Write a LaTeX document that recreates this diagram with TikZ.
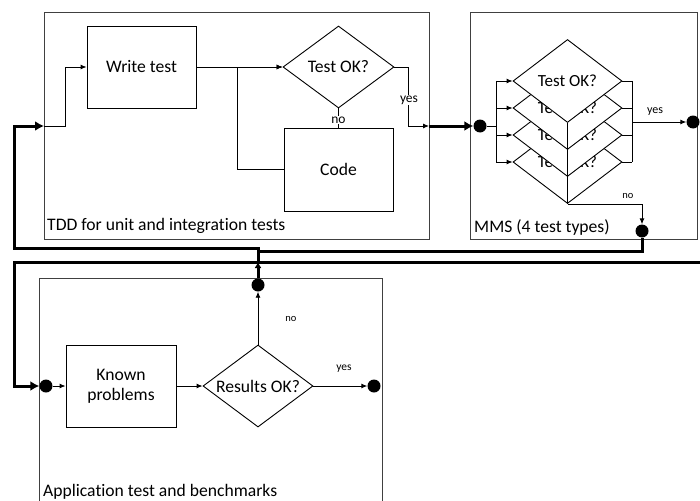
\documentclass[tikz,border=0pt]{standalone}
\usepackage{fontspec}
\setmainfont{Carlito}[Ligatures=NoCommon]
\usetikzlibrary{shapes.geometric,arrows.meta}
\begin{document}
\begin{tikzpicture}[x=1pt,y=-1pt,
  frame/.style={draw=black!75, line width=0.9pt, anchor=north west, inner sep=0},
  block/.style={draw=black, line width=0.9pt, fill=white, inner sep=0,
    minimum width=110pt, minimum height=82pt, align=center,
    font=\fontsize{17.6}{20}\selectfont},
  decision/.style={diamond, aspect=1.34, draw=black, line width=0.9pt, fill=white,
    inner sep=0, minimum width=110pt, minimum height=82pt,
    font=\fontsize{17.6}{20}\selectfont},
  junction/.style={circle, fill=black, inner sep=0, minimum size=13pt},
  link/.style={line width=0.9pt},
  flow/.style={line width=0.9pt, -{Latex[length=6pt,width=5pt]}},
  bus/.style={line width=3pt},
  busarrow/.style={line width=3pt, -{Latex[length=9pt,width=10pt]}},
  caption/.style={anchor=west, inner sep=0, font=\fontsize{17.6}{20}\selectfont},
  tag/.style={fill=white, inner sep=1pt, font=\fontsize{13.5}{15}\selectfont},
  smalltag/.style={inner sep=0, font=\fontsize{11}{12}\selectfont}]

\clip (0,0) rectangle (700,500);

% outer frames
\node[frame, minimum width=385pt, minimum height=227pt] (tdd) at (44,12) {};
\node[frame, minimum width=227pt, minimum height=227pt] (mms) at (470,12) {};
\node[frame, minimum width=343pt, minimum height=240pt] (app) at (39,278) {};
\node[caption] at (47,226) {TDD for unit and integration tests};
\node[caption] at (474,227) {MMS (4 test types)};
\node[caption] at (43,492) {Application test and benchmarks};

% ---- TDD loop ----
\node[block, minimum width=109pt] (write) at (141.5,67) {Write test};
\node[decision, minimum width=111pt] (tok) at (338.5,67) {Test OK?};
\node[block, minimum width=109pt, minimum height=83pt] (code) at (338.5,169.5) {Code};
\coordinate (tddin) at (44,126);
\coordinate (tddout) at (429,126);
\coordinate (loop) at (237,67);

\draw[flow] (tddin) -| (65,67) -- (write.west);
\draw[flow] (write.east) -- (tok.west);
\draw[flow] (code.west) -| (loop) -- (tok.west);
\draw[link] (tok.south) -- node[tag, pos=0.6] {no} (code.north);
\draw[flow] (tok.east) -| (408,126) -- (tddout);
\node[tag] at (409,100) {yes};

% ---- MMS ----
\node[junction] (dtdd) at (480,126) {};
\node[junction] (dmmsy) at (693,122) {};
\node[junction] (dmmsn) at (642,231) {};
\coordinate (lbus) at (496,0);
\coordinate (rbus) at (632,0);

\draw[busarrow] (tddout) -- (dtdd);
\draw[link] (dtdd) -- (dtdd -| lbus);
\draw[link] (496,81) -- (496,162);
\draw[link] (632,81) -- (632,162);

% stacked test diamonds, lowest first so each upper one overlaps the next
\foreach \i/\y in {4/162,3/135,2/108,1/81}{
  \node[decision, aspect=1.3, minimum width=109pt, minimum height=83pt,
        font=\fontsize{17}{19}\selectfont] (t\i) at (567.5,\y) {Test OK?};
}
\foreach \i in {1,...,4}{
  \draw[flow] (t\i.west -| lbus) -- (t\i.west);
  \draw[link] (t\i.east) -- (t\i.east -| rbus);
}
\draw[link] (t1.south) -- (t4.south);
\draw[flow] (t4.south) -| (dmmsn);
\draw[flow] (632,122) -- (dmmsy);
\node[smalltag, font=\fontsize{12}{13}\selectfont] at (655,112) {yes};
\node[smalltag, font=\fontsize{10.5}{12}\selectfont] at (628,196) {no};

% ---- Application tests ----
\node[junction] (dappin) at (46,386) {};
\node[block] (known) at (121,386) {Known\\problems};
\node[decision] (rok) at (258,386) {Results OK?};
\node[junction] (dappno) at (258,285) {};
\node[junction] (dappyes) at (374,386) {};

\draw[flow] (dappin) -- (known.west);
\draw[flow] (known.east) -- (rok.west);
\draw[flow] (rok.east) -- (dappyes);
\draw[flow] (rok.north) -- (dappno);
\node[smalltag, font=\fontsize{10.5}{12}\selectfont] at (291,319) {no};
\node[smalltag, font=\fontsize{11.5}{13}\selectfont] at (344,369) {yes};

% ---- feedback lines ----
\coordinate (cross) at (258,262);
\coordinate (ext) at (700,262);
\draw[bus] (dmmsn) |- (258,251);
\draw[line width=3pt, -{Latex[length=6pt,width=7pt]}] (dappno) -- (cross);
\draw[busarrow] (cross) -- (258,248) -- (14,248) -- (14,126) -- (tddin);
\draw[busarrow] (ext) -- (14,262) |- (dappin);
\end{tikzpicture}
\end{document}
